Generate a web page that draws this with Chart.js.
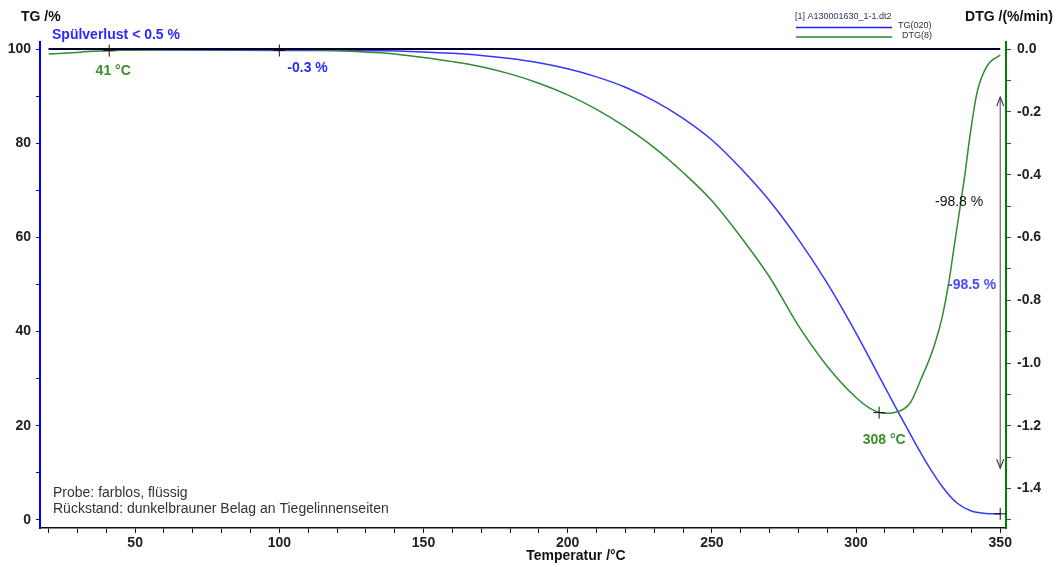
<!DOCTYPE html>
<html>
<head>
<meta charset="utf-8">
<script src="https://cdn.jsdelivr.net/npm/chart.js@4.4.0/dist/chart.umd.min.js"></script>
<style>
html,body{margin:0;padding:0;background:#fff;}
#wrap{width:1056px;height:567px;position:relative;}
canvas{display:block;}
</style>
</head>
<body>
<div id="wrap"><canvas id="c" width="1056" height="567"></canvas></div>
<script>
// ---- data ----
const tgTemp   = [20, 41, 100, 135, 150, 160, 170, 180, 190, 200, 210, 220, 230, 240, 250, 260, 270, 280, 290, 300, 305, 310, 315, 320, 325, 330, 335, 340, 345, 350];
const tgValues = [100, 99.9, 99.7, 99.65, 99.4, 99.1, 98.65, 98.0, 97.1, 95.8, 94.1, 91.9, 89.0, 85.3, 80.7, 74.7, 67.8, 59.6, 50.3, 39.7, 34.0, 28.2, 22.5, 16.9, 11.6, 7.0, 3.6, 1.9, 1.4, 1.3];

const dtgTemp   = [20, 31, 40, 72, 107, 135, 140, 150, 160, 170, 180, 190, 200, 210, 220, 230, 240, 250, 260, 270, 280, 290, 300, 305, 310, 314, 318.7, 322.4, 327.0, 329.9, 332.3, 334.0, 336.1, 337.8, 339.3, 341.9, 345.3, 350];
const dtgValues = [-0.016, -0.010, -0.005, -0.002, -0.002, -0.012, -0.016, -0.027, -0.040, -0.056, -0.079, -0.109, -0.146, -0.192, -0.248, -0.314, -0.393, -0.483, -0.598, -0.726, -0.881, -1.010, -1.110, -1.145, -1.160, -1.156, -1.128, -1.054, -0.948, -0.852, -0.736, -0.630, -0.502, -0.396, -0.290, -0.141, -0.056, -0.019];

const baseTemp   = [20, 350];
const baseValues = [100, 100];

const tgMarkTemp    = [100, 350];
const tgMarkValues  = [99.7, 1.3];
const dtgMarkTemp   = [41, 308];
const dtgMarkValues = [-0.005, -1.158];

const xTickLabels   = [50, 100, 150, 200, 250, 300, 350];
const xMinorTicks   = [20,30,40,50,60,70,80,90,100,110,120,130,140,150,160,170,180,190,200,210,220,230,240,250,260,270,280,290,300,310,320,330,340,350];
const tgTickLabels  = [0, 20, 40, 60, 80, 100];
const tgMinorTicks  = [0,10,20,30,40,50,60,70,80,90,100];
const dtgTickLabels = [0.0, -0.2, -0.4, -0.6, -0.8, -1.0, -1.2, -1.4];
const dtgMinorTicks = [0.0,-0.1,-0.2,-0.3,-0.4,-0.5,-0.6,-0.7,-0.8,-0.9,-1.0,-1.1,-1.2,-1.3,-1.4,-1.5];

const toPts = (xs, ys) => xs.map((v, i) => ({x: v, y: ys[i]}));

const FONT = '"Liberation Sans", Arial, Helvetica, sans-serif';
const BLUE = '#3636ff';
const GREEN = '#2f8c2f';
const TXTGREEN = '#3a8f2a';

const annot = {
  id: 'annot',
  afterDraw(chart) {
    const {ctx, scales} = chart;
    const x = scales.x, y = scales.y, y2 = scales.y2;
    ctx.save();
    function txt(s, px, py, font, color, align) {
      ctx.font = font; ctx.fillStyle = color; ctx.textAlign = align || 'left';
      ctx.textBaseline = 'middle'; ctx.fillText(s, px, py);
    }
    // axis titles
    txt('TG /%', 21, 17, 'bold 14px ' + FONT, '#111');
    txt('DTG /(%/min)', 1053, 17, 'bold 14px ' + FONT, '#111', 'right');
    txt('Temperatur /°C', 576, 556, 'bold 14px ' + FONT, '#111', 'center');
    // header note
    txt('Spülverlust < 0.5 %', 52, 35, 'bold 14px ' + FONT, '#2a2aff');
    // legend
    txt('[1] A130001630_1-1.dt2', 795, 17, '9px ' + FONT, '#333366');
    ctx.lineWidth = 1.3;
    ctx.strokeStyle = '#2020ff'; ctx.beginPath(); ctx.moveTo(796, 27.5); ctx.lineTo(892, 27.5); ctx.stroke();
    ctx.strokeStyle = '#228822'; ctx.beginPath(); ctx.moveTo(796, 37); ctx.lineTo(892, 37); ctx.stroke();
    txt('TG(020)', 898, 26, '9px ' + FONT, '#333');
    txt('DTG(8)', 902, 35.5, '9px ' + FONT, '#333');
    // marker labels
    const p41x = x.getPixelForValue(41), p41y = y2.getPixelForValue(-0.005);
    txt('41 °C', p41x + 4, p41y + 21, 'bold 14px ' + FONT, TXTGREEN, 'center');
    const p100x = x.getPixelForValue(100), p100y = y.getPixelForValue(99.7);
    txt('-0.3 %', p100x + 8, p100y + 18, 'bold 14px ' + FONT, '#2a2aff');
    const p308x = x.getPixelForValue(308), p308y = y2.getPixelForValue(-1.158);
    txt('308 °C', p308x + 5, p308y + 28, 'bold 14px ' + FONT, TXTGREEN, 'center');
    // mass change arrow
    const ax = x.getPixelForValue(350);
    const aTop = y.getPixelForValue(89.8), aBot = y.getPixelForValue(11.0);
    ctx.strokeStyle = '#666'; ctx.lineWidth = 1.2;
    ctx.beginPath(); ctx.moveTo(ax, aTop); ctx.lineTo(ax, aBot); ctx.stroke();
    ctx.strokeStyle = '#3a3a5a'; ctx.lineWidth = 1.2;
    ctx.beginPath(); ctx.moveTo(ax - 3.5, aTop + 9); ctx.lineTo(ax, aTop); ctx.lineTo(ax + 3.5, aTop + 9); ctx.stroke();
    ctx.beginPath(); ctx.moveTo(ax - 3.5, aBot - 9); ctx.lineTo(ax, aBot); ctx.lineTo(ax + 3.5, aBot - 9); ctx.stroke();
    txt('-98.8 %', 935, 202, '14px ' + FONT, '#111');
    txt('-98.5 %', 948, 285, 'bold 14px ' + FONT, '#4a4aff');
    // sample notes
    txt('Probe: farblos, flüssig', 53, 493, '14px ' + FONT, '#333');
    txt('Rückstand: dunkelbrauner Belag an Tiegelinnenseiten', 53, 509, '14px ' + FONT, '#333');
    ctx.restore();
  }
};

const near = (arr, v) => arr.some(a => Math.abs(a - v) < 1e-6);

new Chart(document.getElementById('c'), {
  type: 'line',
  data: {
    datasets: [
      {label: 'base', data: toPts(baseTemp, baseValues), yAxisID: 'y', borderColor: '#00002a', borderWidth: 2, pointRadius: 0, order: 1},
      {label: 'TG(020)', data: toPts(tgTemp, tgValues), yAxisID: 'y', borderColor: BLUE, borderWidth: 1.5, pointRadius: 0, cubicInterpolationMode: 'monotone', order: 3},
      {label: 'DTG(8)', data: toPts(dtgTemp, dtgValues), yAxisID: 'y2', borderColor: GREEN, borderWidth: 1.5, pointRadius: 0, cubicInterpolationMode: 'monotone', order: 2},
      {label: 'mTG', data: toPts(tgMarkTemp, tgMarkValues), yAxisID: 'y', showLine: false, pointStyle: 'cross', pointRadius: 6, borderColor: '#111', borderWidth: 1, order: 0},
      {label: 'mDTG', data: toPts(dtgMarkTemp, dtgMarkValues), yAxisID: 'y2', showLine: false, pointStyle: 'cross', pointRadius: 6, borderColor: '#111', borderWidth: 1, order: 0}
    ]
  },
  options: {
    responsive: false,
    animation: false,
    devicePixelRatio: 1,
    layout: {padding: {top: 42, left: 0, right: 0, bottom: 0}},
    plugins: {legend: {display: false}, tooltip: {enabled: false}},
    scales: {
      x: {
        type: 'linear', position: 'bottom', min: 17, max: 352,
        afterBuildTicks: s => { s.ticks = xMinorTicks.map(v => ({value: v})); },
        afterFit: s => { s.height = 39; },
        ticks: {
          autoSkip: false, maxRotation: 0, padding: 2, color: '#222',
          font: {family: FONT, size: 14, weight: 'bold'},
          callback: v => near(xTickLabels, v) ? String(v) : ''
        },
        grid: {drawOnChartArea: false, drawTicks: true, tickLength: 5, color: '#111'},
        border: {display: true, color: '#111', width: 1.5}
      },
      y: {
        type: 'linear', position: 'left', min: -1.7, max: 101.5,
        afterBuildTicks: s => { s.ticks = tgMinorTicks.map(v => ({value: v})); },
        afterFit: s => { s.width = 40; },
        ticks: {
          autoSkip: false, padding: 5, color: '#222',
          font: {family: FONT, size: 14, weight: 'bold'},
          callback: v => near(tgTickLabels, v) ? String(v) : ''
        },
        grid: {drawOnChartArea: false, drawTicks: true, tickLength: 4, color: '#0000ff'},
        border: {display: true, color: '#0000ff', width: 2}
      },
      y2: {
        type: 'linear', position: 'right', min: -1.5255, max: 0.0225,
        afterBuildTicks: s => { s.ticks = dtgMinorTicks.map(v => ({value: v})); },
        afterFit: s => { s.width = 50; },
        ticks: {
          autoSkip: false, padding: 6, color: '#222',
          font: {family: FONT, size: 14, weight: 'bold'},
          callback: v => near(dtgTickLabels, v) ? (Math.abs(v) < 1e-9 ? '0.0' : v.toFixed(1)) : ''
        },
        grid: {drawOnChartArea: false, drawTicks: true, tickLength: 5, color: '#008000'},
        border: {display: true, color: '#008000', width: 2}
      }
    }
  },
  plugins: [annot]
});
</script>
</body>
</html>
